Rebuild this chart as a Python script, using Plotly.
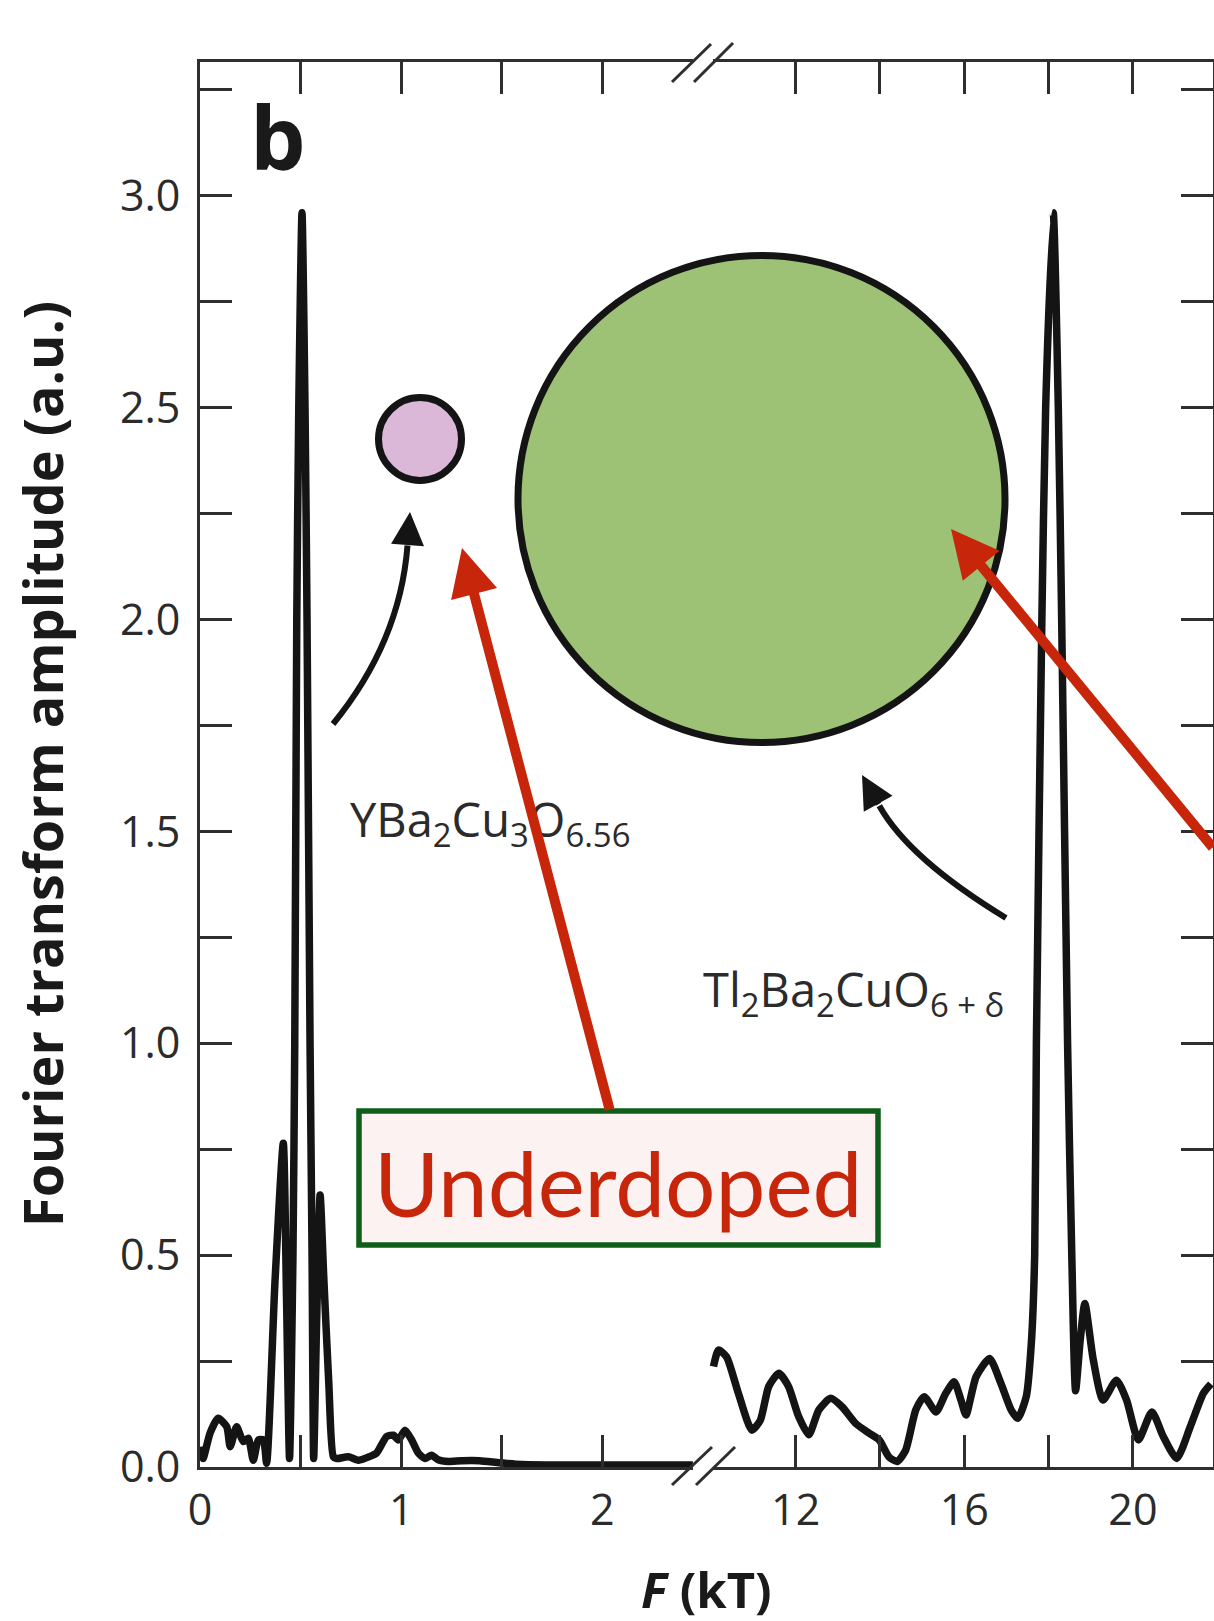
import plotly.graph_objects as go

# ---------------------------------------------------------------------
# Quantum-oscillation Fourier spectra (amplitude in a.u., F in kT)
# ---------------------------------------------------------------------
# Low-frequency window: YBa2Cu3O6.56
ybco_F = [0.005, 0.015, 0.05, 0.09, 0.133, 0.15, 0.182, 0.215, 0.24, 0.265,
          0.29, 0.315, 0.331, 0.373, 0.414, 0.43, 0.445, 0.462, 0.471, 0.481,
          0.491, 0.507, 0.522, 0.532, 0.547, 0.557, 0.565, 0.58, 0.597, 0.615,
          0.64, 0.663, 0.68, 0.737, 0.79, 0.84, 0.878, 0.928, 0.961, 0.986,
          1.019, 1.052, 1.085, 1.118, 1.151, 1.184, 1.234, 1.3, 1.39, 1.49,
          1.6, 1.75, 1.9, 2.05, 2.2, 2.35, 2.45]
ybco_amp = [0.048, 0.02, 0.08, 0.115, 0.095, 0.048, 0.095, 0.06, 0.068, 0.016,
            0.064, 0.064, 0.009, 0.44, 0.764, 0.40, 0.02, 0.5, 1.0, 2.0,
            2.5, 2.96, 2.5, 2.0, 1.0, 0.5, 0.02, 0.35, 0.642, 0.45,
            0.2, 0.024, 0.02, 0.024, 0.016, 0.024, 0.033, 0.072, 0.075, 0.064,
            0.087, 0.064, 0.033, 0.02, 0.028, 0.017, 0.013, 0.015, 0.015, 0.01,
            0.006, 0.005, 0.005, 0.005, 0.005, 0.005, 0.005]

# High-frequency window: Tl2Ba2CuO6+delta
tl_F = [10.05, 10.17, 10.36, 10.64, 10.96, 11.16, 11.36, 11.6, 11.83, 12.07,
        12.31, 12.55, 12.83, 13.1, 13.42, 13.74, 13.98, 14.21, 14.41, 14.61,
        14.85, 15.05, 15.33, 15.56, 15.76, 15.92, 16.04, 16.28, 16.6, 16.87,
        17.11, 17.27, 17.47, 17.59, 17.67, 17.71, 17.84, 17.93, 18.11, 18.23,
        18.31, 18.45, 18.55, 18.64, 18.75, 18.86, 19.06, 19.29, 19.61, 19.85,
        20.13, 20.45, 20.72, 21.04, 21.36, 21.67, 21.85]
tl_amp = [0.237, 0.276, 0.26, 0.174, 0.087, 0.11, 0.19, 0.221, 0.19, 0.119,
          0.076, 0.135, 0.162, 0.142, 0.103, 0.08, 0.064, 0.024, 0.013, 0.04,
          0.135, 0.166, 0.13, 0.174, 0.201, 0.158, 0.123, 0.213, 0.256, 0.197,
          0.135, 0.115, 0.166, 0.292, 0.5, 1.0, 2.0, 2.5, 2.96, 2.5,
          2.0, 1.0, 0.5, 0.18, 0.3, 0.386, 0.253, 0.158, 0.205, 0.158,
          0.064, 0.13, 0.072, 0.02, 0.095, 0.174, 0.196]

# Tick positions and labels
y_tick_vals = [0.0, 0.25, 0.5, 0.75, 1.0, 1.25, 1.5, 1.75, 2.0, 2.25, 2.5, 2.75, 3.0, 3.25]
y_tick_text = ["0.0", "", "0.5", "", "1.0", "", "1.5", "", "2.0", "", "2.5", "", "3.0", ""]
low_tick_vals = [0, 0.5, 1, 1.5, 2]
low_tick_text = ["0", "", "1", "", "2"]
high_tick_vals = [12, 14, 16, 18, 20]
high_tick_text = ["12", "", "16", "", "20"]

# ---------------------------------------------------------------------
# Page geometry (pixels) and helpers for paper-referenced decorations
# ---------------------------------------------------------------------
FIG_W, FIG_H = 1214, 1621
M_L, M_R, M_T, M_B = 200, 1, 62, 154
PLOT_W = FIG_W - M_L - M_R
PLOT_H = FIG_H - M_T - M_B
SPLIT = 0.4965          # where the broken F axis jumps from 2.5 to 9.8 kT


def px(x):
    return (x - M_L) / PLOT_W


def py(y):
    return (FIG_H - M_B - y) / PLOT_H


AXIS = "#2e2e2e"
INK = "#141414"
RED = "#c8260a"
TICK_FONT = dict(family="Open Sans", size=43, color="#2b2b2b")
LABEL_FONT = dict(family="Open Sans", size=47, color="#2b2b2b")

fig = go.Figure()
fig.add_trace(go.Scatter(x=ybco_F, y=ybco_amp, xaxis="x", yaxis="y", mode="lines",
                         line=dict(color=INK, width=7.5, shape="spline", smoothing=0.6),
                         showlegend=False, hoverinfo="skip"))
fig.add_trace(go.Scatter(x=tl_F, y=tl_amp, xaxis="x2", yaxis="y2", mode="lines",
                         line=dict(color=INK, width=7.5, shape="spline", smoothing=0.6),
                         showlegend=False, hoverinfo="skip"))

common = dict(showline=True, linecolor=AXIS, linewidth=3, ticks="inside", ticklen=32,
              tickwidth=3, tickcolor=AXIS, showgrid=False, zeroline=False,
              tickfont=TICK_FONT, tickmode="array", fixedrange=True)

fig.update_layout(
    width=FIG_W, height=FIG_H,
    margin=dict(l=M_L, r=M_R, t=M_T, b=M_B, pad=0),
    paper_bgcolor="white", plot_bgcolor="white",
    showlegend=False,
    xaxis=dict(**common, domain=[0, SPLIT], range=[0, 2.5], anchor="y", mirror="ticks",
               tickvals=low_tick_vals, ticktext=low_tick_text, ticklabelstandoff=3),
    xaxis2=dict(**common, domain=[SPLIT, 1], range=[9.8, 21.9], anchor="y2", mirror="ticks",
                tickvals=high_tick_vals, ticktext=high_tick_text, ticklabelstandoff=3),
    yaxis=dict(**common, domain=[0, 1], range=[0, 3.316], anchor="x", side="left",
               tickvals=y_tick_vals, ticktext=y_tick_text, ticklabelstandoff=8),
    yaxis2=dict(**common, domain=[0, 1], range=[0, 3.316], anchor="x2", side="right",
                overlaying="y", tickvals=y_tick_vals, ticktext=y_tick_text,
                showticklabels=False),
)

shapes = []

# Axis break: blank the axis between the two slashes, then draw the slashes
for yy in (62, 1467):
    shapes.append(dict(type="line", xref="paper", yref="paper",
                       x0=px(693), y0=py(yy), x1=px(713), y1=py(yy),
                       line=dict(color="white", width=7)))
for (xa, ya, xb, yb) in [(672, 82, 711, 44), (694, 82, 733, 43),
                         (672, 1485, 712, 1447), (696, 1485, 735, 1447)]:
    shapes.append(dict(type="line", xref="paper", yref="paper",
                       x0=px(xa), y0=py(ya), x1=px(xb), y1=py(yb),
                       line=dict(color=AXIS, width=3)))


def circle(cx, cy, r, fill, lw):
    return dict(type="circle", xref="paper", yref="paper",
                x0=px(cx - r), x1=px(cx + r), y0=py(cy + r), y1=py(cy - r),
                fillcolor=fill, line=dict(color=INK, width=lw))


# Fermi-surface pockets: small (YBCO) and large (Tl2201)
shapes.append(circle(420, 439, 41.5, "#dbb7d8", 7))
shapes.append(circle(761.5, 499, 243.5, "#9dc175", 7))


def curve(p0, c, p1):
    return dict(type="path", xref="paper", yref="paper",
                path=f"M {px(p0[0])},{py(p0[1])} Q {px(c[0])},{py(c[1])} {px(p1[0])},{py(p1[1])}",
                line=dict(color=INK, width=6))


shapes.append(curve((333, 724), (400, 642), (407.5, 545.5)))
shapes.append(curve((1006, 918), (909, 859), (879.3, 805.8)))

# Label box
shapes.append(dict(type="rect", xref="paper", yref="paper",
                   x0=px(359), x1=px(878), y0=py(1245), y1=py(1111),
                   fillcolor="#fdf2f2", line=dict(color="#0e5e1a", width=5.5)))

fig.update_layout(shapes=shapes)

ann = []
ann.append(dict(text="<b>b</b>", x=px(277.5), y=py(136.5), xref="paper", yref="paper",
                xanchor="center", yanchor="middle", showarrow=False,
                font=dict(family="Open Sans", size=88, color="#1a1a1a")))
ann.append(dict(text="<b>Fourier transform amplitude (a.u.)</b>", x=px(42), y=py(764),
                xref="paper", yref="paper", xanchor="center", yanchor="middle",
                textangle=-90, showarrow=False,
                font=dict(family="Open Sans", size=54, color="#1a1a1a")))
ann.append(dict(text="<b><i>F</i> (kT)</b>", x=px(706), y=py(1589), xref="paper", yref="paper",
                xanchor="center", yanchor="middle", showarrow=False,
                font=dict(family="Open Sans", size=49, color="#1a1a1a")))
ann.append(dict(text="YBa<sub>2</sub>Cu<sub>3</sub>O<sub>6.56</sub>", x=px(490), y=py(822),
                xref="paper", yref="paper", xanchor="center", yanchor="middle",
                showarrow=False, font=LABEL_FONT))
ann.append(dict(text="Tl<sub>2</sub>Ba<sub>2</sub>CuO<sub>6 + δ</sub>", x=px(853), y=py(992),
                xref="paper", yref="paper", xanchor="center", yanchor="middle",
                showarrow=False, font=LABEL_FONT))
ann.append(dict(text="Underdoped", x=px(618), y=py(1182), xref="paper", yref="paper",
                xanchor="center", yanchor="middle", showarrow=False,
                font=dict(family="Lato", size=89, color=RED)))

# Arrowheads of the black curved pointers
ann.append(dict(text="", x=px(410), y=py(512), xref="paper", yref="paper",
                ax=-2.5, ay=33.5, showarrow=True, arrowhead=2, arrowsize=1.1,
                arrowwidth=6, arrowcolor=INK, standoff=0))
ann.append(dict(text="", x=px(862), y=py(775), xref="paper", yref="paper",
                ax=17.3, ay=30.8, showarrow=True, arrowhead=2, arrowsize=1.1,
                arrowwidth=6, arrowcolor=INK, standoff=0))

# Red pointers
ann.append(dict(text="", x=px(462), y=py(548), xref="paper", yref="paper",
                ax=148, ay=563, showarrow=True, arrowhead=2, arrowsize=0.95,
                arrowwidth=10, arrowcolor=RED, standoff=0))
ann.append(dict(text="", x=px(951), y=py(529), xref="paper", yref="paper",
                ax=400, ay=320, showarrow=True, arrowhead=2, arrowsize=0.95,
                arrowwidth=10, arrowcolor=RED, standoff=0))

fig.update_layout(annotations=ann)

fig.write_html("out.html")
